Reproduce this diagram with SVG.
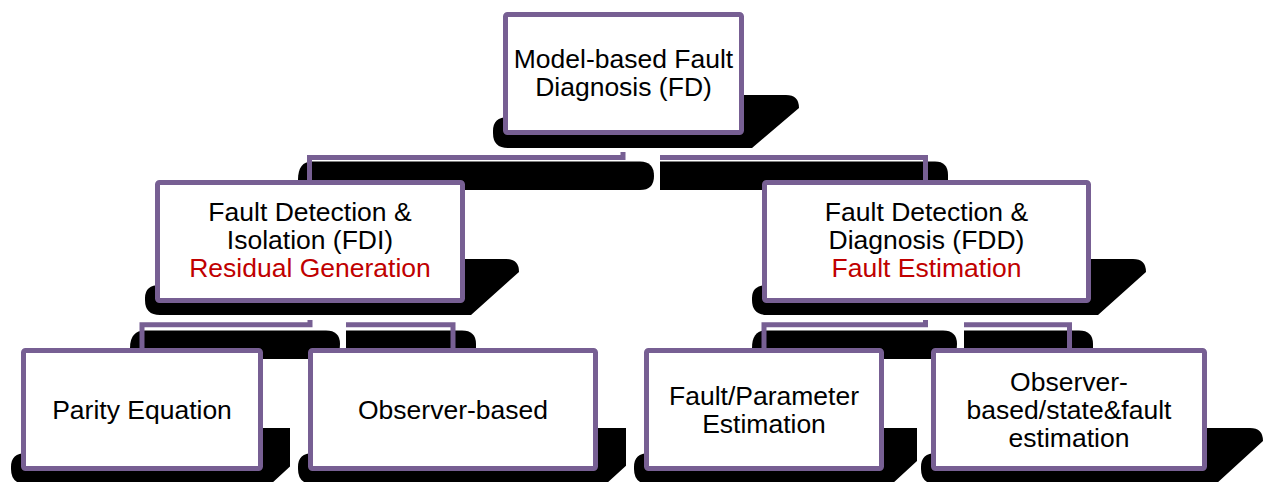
<svg xmlns="http://www.w3.org/2000/svg" width="1267" height="482" viewBox="0 0 1267 482">
  <style>
    .box { fill: #ffffff; stroke: #775F93; stroke-width: 5; stroke-linejoin: round; }
    .shadow { fill: #000000; }
    .link { fill: none; stroke: #775F93; stroke-width: 5; stroke-linejoin: miter; }
    .label { font-family: "Liberation Sans", Arial, sans-serif; font-size: 26.5px; fill: #000000; text-anchor: middle; }
    .accent { fill: #C00000; }
  </style>
  <rect width="1267" height="482" fill="#ffffff"/>

  <!-- drop shadows under the boxes -->
  <g id="box-shadows">
    <path class="shadow" d="M 508,95 H 786 Q 799,95 799,108 L 752,148 H 508 Q 493,148 493,133 V 131 Q 493,117 508,117 Z"/>
    <path class="shadow" d="M 160,259 H 506 Q 519,259 519,272 L 471,315 H 160 Q 145,315 145,300 V 298 Q 145,285 160,285 Z"/>
    <path class="shadow" d="M 767,259 H 1133 Q 1146,259 1146,272 L 1098,315 H 767 Q 752,315 752,300 V 298 Q 752,285 767,285 Z"/>
    <path class="shadow" d="M 26,428 H 290 V 466.6 L 271,484 H 26 Q 11,484 11,469 V 467 Q 11,453 26,453 Z"/>
    <path class="shadow" d="M 313,428 H 626 V 465.7 L 606,484 H 313 Q 298,484 298,469 V 467 Q 298,453 313,453 Z"/>
    <path class="shadow" d="M 649,428 H 917 V 461 L 892,484 H 649 Q 634,484 634,469 V 467 Q 634,453 649,453 Z"/>
    <path class="shadow" d="M 936,428 H 1250 Q 1263,428 1263,441 L 1216,484 H 936 Q 921,484 921,469 V 467 Q 921,453 936,453 Z"/>
  </g>

  <!-- connectors with their shadows -->
  <g id="connectors">
    <path class="shadow" d="M 312,161.5 H 640 Q 654,161.5 654,176 Q 654,190 640,190 H 300 Q 298,190 298,180 Q 298,161.5 312,161.5 Z"/>
    <path class="shadow" d="M 660,161.5 H 935 Q 948,161.5 948,175 V 190 H 660 Z"/>
    <path class="shadow" d="M 145,330.5 H 326 Q 340,330.5 340,344 Q 340,359 326,359 H 140 Q 130,359 130,348 Q 130,330.5 145,330.5 Z"/>
    <path class="shadow" d="M 346,330.5 H 462 Q 476,330.5 476,344 V 359 H 346 Z"/>
    <path class="shadow" d="M 766,330.5 H 943 Q 957,330.5 957,344 Q 957,359 943,359 H 762 Q 752,359 752,348 Q 752,330.5 766,330.5 Z"/>
    <path class="shadow" d="M 964,330.5 H 1079 Q 1093,330.5 1093,344 V 359 H 964 Z"/>

    <path class="link" d="M 623,152 V 157.5 H 309.5 V 182"/>
    <path class="link" d="M 660,157.5 H 925.5 V 182"/>
    <path class="link" d="M 310,320 V 324.8 H 142 V 350"/>
    <path class="link" d="M 346,324.8 H 453 V 350"/>
    <path class="link" d="M 925.5,320 V 324.8 H 764 V 350"/>
    <path class="link" d="M 964,324.8 H 1069.5 V 350"/>
  </g>

  <g id="fd">
    <rect class="box" x="505.5" y="14.5" width="236" height="118" rx="2"/>
    <text class="label" x="623.5" y="68">Model-based Fault</text>
    <text class="label" x="623.5" y="96">Diagnosis (FD)</text>
  </g>

  <g id="fdi">
    <rect class="box" x="157.5" y="182.5" width="305" height="118" rx="2"/>
    <text class="label" x="310" y="221">Fault Detection &amp;</text>
    <text class="label" x="310" y="249">Isolation (FDI)</text>
    <text class="label accent" x="310" y="277">Residual Generation</text>
  </g>

  <g id="fdd">
    <rect class="box" x="764.5" y="182.5" width="324" height="118" rx="2"/>
    <text class="label" x="926.5" y="221">Fault Detection &amp;</text>
    <text class="label" x="926.5" y="249">Diagnosis (FDD)</text>
    <text class="label accent" x="926.5" y="277">Fault Estimation</text>
  </g>

  <g id="parity">
    <rect class="box" x="23.5" y="350.5" width="237" height="118" rx="2"/>
    <text class="label" x="142" y="419">Parity Equation</text>
  </g>

  <g id="observer">
    <rect class="box" x="310.5" y="350.5" width="285" height="118" rx="2"/>
    <text class="label" x="453" y="419">Observer-based</text>
  </g>

  <g id="parameter-estimation">
    <rect class="box" x="646.5" y="350.5" width="235" height="118" rx="2"/>
    <text class="label" x="764" y="405">Fault/Parameter</text>
    <text class="label" x="764" y="433">Estimation</text>
  </g>

  <g id="state-fault-estimation">
    <rect class="box" x="933.5" y="350.5" width="271" height="118" rx="2"/>
    <text class="label" x="1069" y="391">Observer-</text>
    <text class="label" x="1069" y="419">based/state&amp;fault</text>
    <text class="label" x="1069" y="447">estimation</text>
  </g>
</svg>
